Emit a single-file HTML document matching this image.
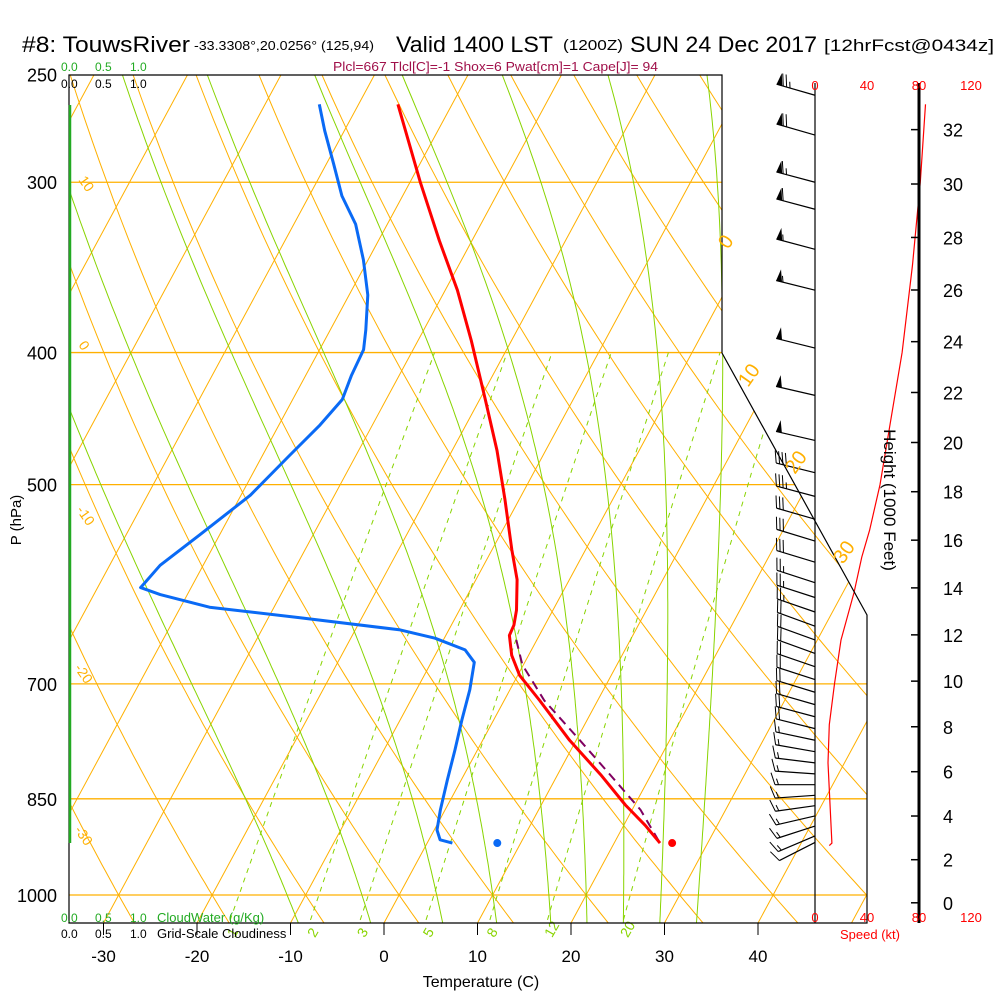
<!DOCTYPE html>
<html><head><meta charset="utf-8">
<style>
html,body{margin:0;padding:0;background:#fff;}
svg{display:block;font-family:"Liberation Sans",sans-serif;}
</style></head>
<body>
<svg id="chart" width="1000" height="1000" viewBox="0 0 1000 1000" xmlns="http://www.w3.org/2000/svg">
<defs><clipPath id="plotClip"><polygon points="69,75 722,75 722,353 867,615 867,923 69,923"/></clipPath></defs>
<g>
<text x="22" y="52" font-size="22" textLength="168" lengthAdjust="spacingAndGlyphs">#8: TouwsRiver</text>
<text x="194" y="50" font-size="13" textLength="180" lengthAdjust="spacingAndGlyphs">-33.3308°,20.0256° (125,94)</text>
<text x="396" y="52" font-size="22" textLength="157" lengthAdjust="spacingAndGlyphs">Valid 1400 LST</text>
<text x="563" y="50" font-size="15" textLength="60" lengthAdjust="spacingAndGlyphs">(1200Z)</text>
<text x="630" y="52" font-size="22" textLength="187" lengthAdjust="spacingAndGlyphs">SUN 24 Dec 2017</text>
<text x="824" y="51" font-size="17" textLength="170" lengthAdjust="spacingAndGlyphs">[12hrFcst@0434z]</text>
</g>
<text x="333" y="71" font-size="13" fill="#a0104a" textLength="325" lengthAdjust="spacingAndGlyphs">Plcl=667 Tlcl[C]=-1 Shox=6 Pwat[cm]=1 Cape[J]= 94</text>
<g id="grid" clip-path="url(#plotClip)"></g>
<g id="profiles"></g>
<g id="axes"></g>
</svg>
<script>
const NS="http://www.w3.org/2000/svg";
// ---- data ----
const pressureTicks=[250,300,400,500,700,850,1000];
const tempTicks=[-30,-20,-10,0,10,20,30,40];
const tempP=[263,300,331,360,392,433,472,513,558,587,618,634,645,667,690,720,770,816,859,889,916];
const tempT=[-45.8,-38.9,-33.5,-28.7,-24.3,-19.4,-15.2,-11.5,-7.9,-5.6,-3.9,-3.3,-3.2,-1.8,0.2,3.8,9.3,14.6,19.0,22.3,24.9];
const dewP=[263,275,291,307,322,342,363,385,398,416,433,452,476,509,544,573,595,602,615,626,639,648,661,675,707,744,783,823,866,896,911,916];
const dewT=[-54.2,-52.1,-49.2,-46.5,-43.4,-40.5,-38.0,-36.2,-35.3,-35.1,-34.7,-35.6,-37.1,-39.0,-42.1,-44.6,-45.4,-42.9,-36.9,-26.6,-15.2,-11.0,-7.1,-5.4,-4.3,-3.4,-2.4,-1.5,-0.5,0.3,1.2,2.7];
const parcelP=[650,678,720,770,816,866,916];
const parcelT=[-2.2,-0.1,4.3,10.4,15.6,20.9,24.9];
const sfcP=916, sfcT=26.2, sfcTd=7.5;
const windP=[259,277,300,314,336,360,397,430,464,490,510,530,550,570,590,605,620,635,650,665,680,695,710,725,740,755,770,785,800,815,830,845,860,875,890,905,915];
const windDir=[286,286,285,285,285,284,284,283,283,284,285,286,287,287,288,288,289,290,290,290,289,288,287,286,285,284,282,280,277,274,270,266,262,257,252,247,243];
const windSpd=[75,70,65,60,55,55,50,50,50,40,35,30,30,30,25,25,25,20,20,20,20,20,20,20,20,20,15,15,15,15,15,15,15,15,15,15,10];
const spdP=[263,300,345,400,450,500,540,565,600,650,700,750,800,916,920];
const spdV=[85,81,75,67,58,50,42,36,30,20,15,11,10,13,11];
const heightTicks=[0,2,4,6,8,10,12,14,16,18,20,22,24,26,28,30,32];
const speedTicks=[0,40,80,120];
const isoT=[];for(let t=-160;t<=50;t+=10)isoT.push(t);
const dryTheta=[];for(let t=-30;t<=170;t+=10)dryTheta.push(t);
const moistTw=[-12,-4,4,10,16,20,24,28,32];
const mixW=[1,2,3,5,8,12,20];
// ---- axes ----
function yP(p){return 895-592*Math.log(1000/p);}
function xT(T,y){return 384+9.35*T+(923-y)*0.54;}
function pt(p,T){const y=yP(p);return [xT(T,y),y];}
function xSpd(v){return 815+v*1.3;}
function pFromH(kft){const m=kft*304.8;return 1013.25*Math.pow(1-2.25577e-5*m,5.2559);}
function el(tag,attrs,parent,txt){const e=document.createElementNS(NS,tag);for(const k in attrs)e.setAttribute(k,attrs[k]);if(txt!==undefined)e.textContent=txt;parent.appendChild(e);return e;}
function poly(pts){return pts.map(q=>q[0].toFixed(1)+','+q[1].toFixed(1)).join(' ');}
const grid=document.getElementById('grid'),prof=document.getElementById('profiles'),axes=document.getElementById('axes');
const OR='#ffb000',GR='#88d400';
pressureTicks.forEach(p=>{const y=yP(p);
 const l=el('line',{x1:69,x2:900,y1:y,y2:y,stroke:OR,'stroke-width':1.3},grid);
 
 });
isoT.forEach(t=>{const l=el('line',{x1:xT(t,960),y1:960,x2:xT(t,40),y2:40,stroke:OR,'stroke-width':1},grid);
 
 });
dryTheta.forEach(th=>{const pts=[];for(let p=1060;p>=240;p-=10){const T=(th+273.15)*Math.pow(p/1000,0.2857)-273.15;pts.push(pt(p,T));}
 const l=el('polyline',{points:poly(pts),fill:'none',stroke:OR,'stroke-width':1},grid);
 
 });
function es(T){return 6.112*Math.exp(17.67*T/(T+243.5));}
function gam(p,T){const Tk=T+273.15,rs=0.622*es(T)/(p-es(T)),Lv=2.5e6,Rd=287,cp=1005;
 return (Rd*Tk+Lv*rs)/(cp+Lv*Lv*rs*0.622/(Rd*Tk*Tk))/p;}
moistTw.forEach(tw=>{let Td=tw;for(let q=1000;q<1060;q+=5){Td+=gam(q,Td)*5;}
 let T=Td;const pts=[];for(let p=1060;p>=240;p-=5){pts.push(pt(p,T));T-=gam(p,T)*5;}
 const l=el('polyline',{points:poly(pts),fill:'none',stroke:GR,'stroke-width':1},grid);
 
 });
mixW.forEach(w=>{const pts=[];for(let p=1060;p>=400;p-=10){const e=w*p/(622+w),a=Math.log(e/6.112),Td=243.5*a/(17.67-a);pts.push(pt(p,Td));}
 const l=el('polyline',{points:poly(pts),fill:'none',stroke:GR,'stroke-width':1,'stroke-dasharray':'5,5'},grid);
 
 
 const a=Math.log((w*1040/(622+w))/6.112),q=pt(1040,243.5*a/(17.67-a));
 const t=el('text',{x:q[0]+4,y:q[1]+20,'font-size':14,fill:GR,transform:`rotate(-60 ${q[0]+4} ${q[1]+20})`},axes,String(w));
 
 });
el('polygon',{points:"69,923 69,75 722,75 722,353 867,615 867,923",fill:'none',stroke:'#000','stroke-width':1.2},axes);
el('line',{x1:70,x2:70,y1:105,y2:843,stroke:'#22aa22','stroke-width':2.5},axes);
[[78,180,'10'],[78,345,'0'],[76,510,'-10'],[74,668,'-20'],[74,830,'-30']].forEach(a=>{
 const t=el('text',{x:a[0],y:a[1],'font-size':14,fill:OR,transform:`rotate(55 ${a[0]} ${a[1]})`},axes,a[2]);
 
 });
[[728,250,'0'],[748,388,'10'],[795,475,'20'],[843,565,'30']].forEach(a=>{
 const t=el('text',{x:a[0],y:a[1],'font-size':20,fill:OR,transform:`rotate(-55 ${a[0]} ${a[1]})`},axes,a[2]);
 
 });
pressureTicks.forEach(p=>{const t=el('text',{x:57,y:yP(p)+7,'font-size':18,'text-anchor':'end'},axes,String(p));
 
 });
el('text',{x:21,y:520,'font-size':15,'text-anchor':'middle',transform:'rotate(-90 21 520)'},axes,'P (hPa)');
tempTicks.forEach(t=>{const x=384+9.35*t;el('line',{x1:x,x2:x,y1:923,y2:935,stroke:'#000'},axes);
 const tx=el('text',{x:x,y:962,'font-size':17,'text-anchor':'middle'},axes,String(t));
 
 });
el('text',{x:481,y:987,'font-size':16,'text-anchor':'middle'},axes,'Temperature (C)');
[['0.0',61],['0.5',95],['1.0',130]].forEach(a=>{el('text',{x:a[1],y:71,'font-size':12,fill:'#22aa22'},axes,a[0]);el('text',{x:a[1],y:88,'font-size':12},axes,a[0]);
 el('text',{x:a[1],y:922,'font-size':12,fill:'#22aa22'},axes,a[0]);el('text',{x:a[1],y:938,'font-size':12},axes,a[0]);});
el('text',{x:157,y:922,'font-size':13,fill:'#22aa22'},axes,'CloudWater (g/Kg)');
el('text',{x:157,y:938,'font-size':13},axes,'Grid-Scale Cloudiness');
el('line',{x1:815,x2:815,y1:83,y2:923,stroke:'#000','stroke-width':1.2},axes);
el('line',{x1:919,x2:919,y1:83,y2:923,stroke:'#000','stroke-width':3},axes);
speedTicks.forEach(v=>{const x=xSpd(v);el('text',{x:x,y:90,'font-size':13,fill:'#f00','text-anchor':'middle'},axes,String(v));
 el('text',{x:x,y:922,'font-size':13,fill:'#f00','text-anchor':'middle'},axes,String(v));});
el('text',{x:870,y:939,'font-size':13,fill:'#f00','text-anchor':'middle'},axes,'Speed (kt)');
heightTicks.forEach(h=>{const y=yP(pFromH(h));el('line',{x1:919,x2:911,y1:y,y2:y,stroke:'#000','stroke-width':1.5},axes);
 const t=el('text',{x:943,y:y+7,'font-size':18},axes,String(h));
 
 });
el('text',{x:884,y:500,'font-size':17,'text-anchor':'middle',transform:'rotate(90 884 500)'},axes,'Height (1000 Feet)');
const sp=el('polyline',{points:poly(spdP.map((p,i)=>[xSpd(spdV[i]),yP(p)])),fill:'none',stroke:'#f00','stroke-width':1.2},prof);


windP.forEach((p,i)=>{const y=yP(p),d=windDir[i]*Math.PI/180,ux=Math.sin(d),uy=-Math.cos(d),L=40;
 const g=el('g',{},prof);
 
 
 const tx=815+ux*L,ty=y+uy*L;el('line',{x1:815,y1:y,x2:tx,y2:ty,stroke:'#000','stroke-width':1.2},g);
 const px=-uy,py=ux;
 let s=windSpd[i],pos=0;
 while(s>=50){const ax=tx-ux*pos,ay=ty-uy*pos,bx=tx-ux*(pos+6),by=ty-uy*(pos+6);
  el('polygon',{points:`${ax},${ay} ${bx},${by} ${ax+px*12-ux*2},${ay+py*12-uy*2}`,fill:'#000'},g);pos+=7;s-=50;}
 while(s>=10){const ax=tx-ux*pos,ay=ty-uy*pos;el('line',{x1:ax,y1:ay,x2:ax+px*12+ux*4,y2:ay+py*12+uy*4,stroke:'#000'},g);pos+=3.5;s-=10;}
 if(s>=5){const ax=tx-ux*pos,ay=ty-uy*pos;el('line',{x1:ax,y1:ay,x2:ax+px*6+ux*2,y2:ay+py*6+uy*2,stroke:'#000'},g);}
});
const pc=el('polyline',{points:poly(parcelP.map((p,i)=>pt(p,parcelT[i]))),fill:'none',stroke:'#800060','stroke-width':2,'stroke-dasharray':'9,6'},prof);


const dw=el('polyline',{points:poly(dewP.map((p,i)=>pt(p,dewT[i]))),fill:'none',stroke:'#0a6af5','stroke-width':3,'stroke-linejoin':'round'},prof);


const tp=el('polyline',{points:poly(tempP.map((p,i)=>pt(p,tempT[i]))),fill:'none',stroke:'#f00','stroke-width':3,'stroke-linejoin':'round'},prof);


const s1=pt(sfcP,sfcT),s2=pt(sfcP,sfcTd);
const c1=el('circle',{cx:s1[0],cy:s1[1],r:4,fill:'#f00'},prof);


const c2=el('circle',{cx:s2[0],cy:s2[1],r:4,fill:'#0a6af5'},prof);


</script>
</body></html>
